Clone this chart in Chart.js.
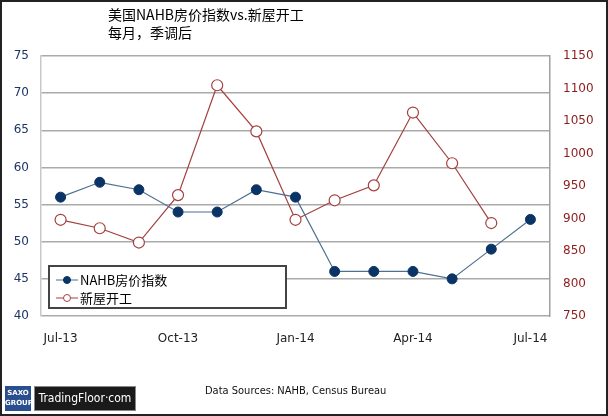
<!DOCTYPE html>
<html>
  <head>
    <meta charset="UTF-8">
    <title>NAHB vs Housing Starts</title>
    <script src="https://cdn.jsdelivr.net/npm/chart.js"></script>
    <style>
      html, body { margin: 0; padding: 0; background: #fff; }
      #wrap { position: relative; width: 604px; height: 412px; border: 2px solid #222; overflow: hidden; }
      #chart { position: absolute; left: -2px; top: -2px; }
      #source { position: absolute; left: 203px; top: 382px; font: 11px "DejaVu Sans Condensed", "DejaVu Sans", sans-serif; color: #111; }
      #logo { position: absolute; left: 3px; top: 384px; height: 25px; display: flex; }
      #saxo { width: 26px; height: 25px; background: #2a4f8f; color: #fff; font: bold 7px "DejaVu Sans", sans-serif; text-align: center; line-height: 10px; padding-top: 2px; box-sizing: border-box; }
      #tf { margin-left: 3px; width: 100px; height: 23px; background: #1a1a1a; border: 1px solid #888; color: #fff; font: 12px "DejaVu Sans Condensed", "DejaVu Sans", sans-serif; line-height: 23px; text-align: center; }
    </style>
  </head>
  <body>
    <div id="wrap">
      <canvas id="chart" width="608" height="416"></canvas>
      <div id="logo"><div id="saxo">SAXO<br>GROUP</div><div id="tf">TradingFloor·com</div></div>
      <div id="source">Data Sources: NAHB, Census Bureau</div>
    </div>
    <script>
      const months = ['Jul-13', 'Aug-13', 'Sep-13', 'Oct-13', 'Nov-13', 'Dec-13',
                      'Jan-14', 'Feb-14', 'Mar-14', 'Apr-14', 'May-14', 'Jun-14', 'Jul-14'];
      const nahb = [56, 58, 57, 54, 54, 57, 56, 46, 46, 46, 45, 49, 53];
      const starts = [898, 885, 863, 936, 1105, 1034, 898, 928, 951, 1063, 985, 893, null];
      const titleLines = ['美国NAHB房价指数vs.新屋开工', '每月，季调后'];

      const blue = '#0b3466';
      const blueLine = '#4f6f90';
      const red = '#a4403e';

      const titlePlugin = {
        id: 'titleText',
        afterDraw(chart) {
          const ctx = chart.ctx;
          ctx.save();
          ctx.fillStyle = '#000';
          ctx.font = '14px "Noto Sans CJK SC", sans-serif';
          ctx.textBaseline = 'middle';
          titleLines.forEach((t, i) => ctx.fillText(t, 108, 15 + i * 18));
          ctx.restore();
        }
      };

      const boxLegend = {
        id: 'boxLegend',
        afterDraw(chart) {
          const ctx = chart.ctx;
          ctx.save();
          ctx.fillStyle = '#fff';
          ctx.fillRect(49, 266, 237, 42);
          ctx.strokeStyle = '#444';
          ctx.lineWidth = 2;
          ctx.strokeRect(49, 266, 237, 42);
          ctx.font = '13px "Noto Sans CJK SC", sans-serif';
          ctx.textBaseline = 'middle';
          chart.data.datasets.forEach((ds, i) => {
            const y = 280 + i * 18;
            ctx.strokeStyle = ds.borderColor;
            ctx.lineWidth = 1;
            ctx.beginPath(); ctx.moveTo(56, y); ctx.lineTo(78, y); ctx.stroke();
            ctx.beginPath(); ctx.arc(67, y, 3.5, 0, Math.PI * 2);
            ctx.fillStyle = ds.pointBackgroundColor; ctx.fill();
            ctx.strokeStyle = ds.pointBorderColor; ctx.stroke();
            ctx.fillStyle = '#000';
            ctx.fillText(ds.label, 80, y);
          });
          ctx.restore();
        }
      };

      const tickFont = { family: 'DejaVu Sans', size: 12 };

      new Chart(document.getElementById('chart'), {
        type: 'line',
        data: {
          labels: months,
          datasets: [{
            label: 'NAHB房价指数',
            data: nahb,
            yAxisID: 'y',
            borderColor: blueLine,
            borderWidth: 1.2,
            pointBackgroundColor: blue,
            pointBorderColor: blue,
            pointRadius: 5,
            pointBorderWidth: 1
          }, {
            label: '新屋开工',
            data: starts,
            yAxisID: 'y1',
            borderColor: red,
            borderWidth: 1.2,
            pointBackgroundColor: '#fff',
            pointBorderColor: red,
            pointRadius: 5.5,
            pointBorderWidth: 1.2
          }]
        },
        options: {
          responsive: false,
          animation: false,
          layout: { padding: { top: 56, bottom: 70, left: 0, right: 0 } },
          plugins: { legend: { display: false }, title: { display: false }, tooltip: { enabled: false } },
          scales: {
            x: {
              offset: true,
              grid: { display: false },
              border: { display: false },
              ticks: {
                autoSkip: false, maxRotation: 0, padding: 8, color: '#222', font: tickFont,
                callback: (v, i) => (i % 3 === 0 ? months[i] : '')
              },
              afterFit: s => { s.height = 30; }
            },
            y: {
              position: 'left',
              min: 40, max: 75,
              ticks: { stepSize: 5, padding: 12, color: '#1c3566', font: tickFont },
              grid: { color: '#aaaaaa', lineWidth: 1.5, drawTicks: false },
              border: { color: '#c8c8c8', width: 1.5 },
              afterFit: s => { s.width = 41; }
            },
            y1: {
              position: 'right',
              min: 750, max: 1150,
              ticks: { stepSize: 50, padding: 13, color: '#8c1c1c', font: tickFont, callback: v => String(v) },
              grid: { display: false, drawTicks: false },
              border: { color: '#a0a0a0', width: 1.5 },
              afterFit: s => { s.width = 58; }
            }
          }
        },
        plugins: [titlePlugin, boxLegend]
      });
    </script>
  </body>
</html>
